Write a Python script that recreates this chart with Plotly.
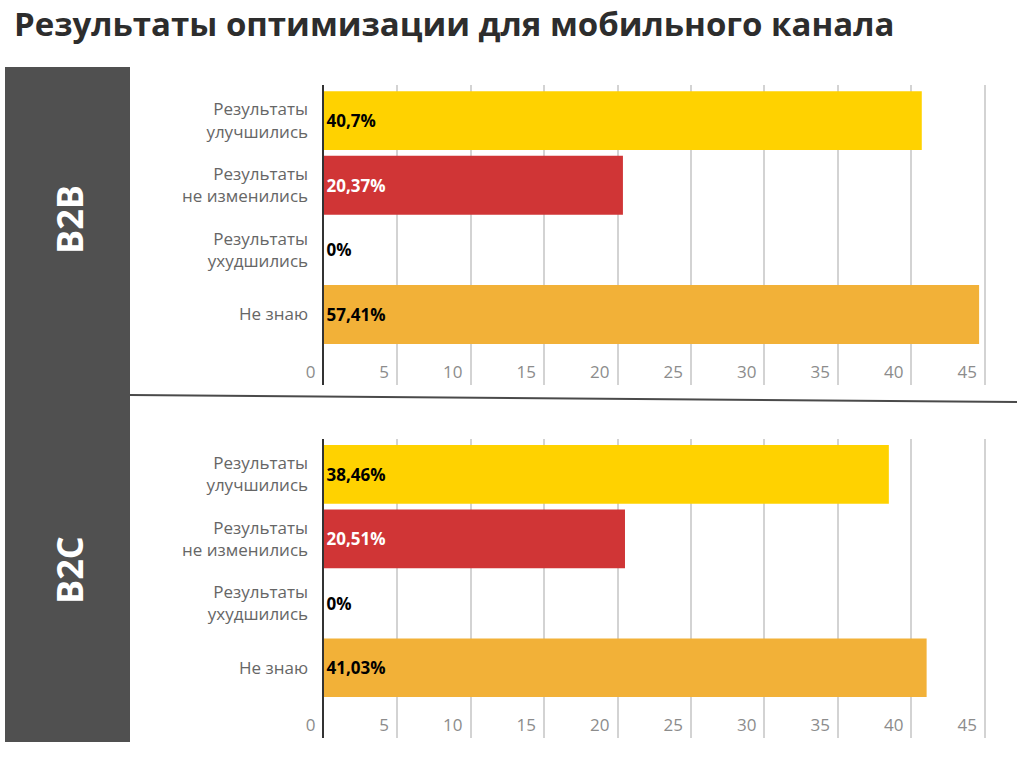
import plotly.graph_objects as go

title_text = "Результаты оптимизации для мобильного канала"
categories = ["Результаты<br>улучшились", "Результаты<br>не изменились",
              "Результаты<br>ухудшились", "Не знаю"]
segments = ["B2B", "B2C"]

# values printed on the bars (percent)
b2b_values = [40.7, 20.37, 0, 57.41]
b2c_values = [38.46, 20.51, 0, 41.03]
# bar lengths as drawn in the picture (the 57,41% bar is drawn truncated at ~44.6)
b2b_drawn = [40.7, 20.37, 0, 44.6]
b2c_drawn = [38.46, 20.51, 0, 41.03]

b2b_labels = ["40,7%", "20,37%", "0%", "57,41%"]
b2c_labels = ["38,46%", "20,51%", "0%", "41,03%"]

x_ticks = [0, 5, 10, 15, 20, 25, 30, 35, 40, 45]

bar_colors = ["#FFD200", "#D03536", "#D03536", "#F2B138"]
text_colors = ["#000000", "#FFFFFF", "#000000", "#000000"]
text_positions = ["inside", "inside", "outside", "inside"]

W, H = 1027, 771
fig = go.Figure()

def px_x(p):
    return p / W

def px_y(p):
    return 1 - p / H

panels = [
    (b2b_drawn, b2b_labels, "x", "y"),
    (b2c_drawn, b2c_labels, "x2", "y2"),
]

for drawn, labels, xa, ya in panels:
    fig.add_trace(go.Bar(
        x=drawn, y=categories, orientation="h",
        xaxis=xa, yaxis=ya,
        marker=dict(color=bar_colors, line=dict(width=0)),
        text=labels, textposition=text_positions,
        insidetextanchor="start",
        textfont=dict(family="Open Sans", size=17, color=text_colors, weight=700),
        outsidetextfont=dict(family="Open Sans", size=17, color="#000000", weight=700),
        constraintext="none", cliponaxis=True,
        showlegend=False, hoverinfo="skip",
    ))

xdom = [px_x(323.5), px_x(989.4)]
axis_common_x = dict(
    range=[0, 45.3], tickvals=x_ticks, ticktext=[str(v) for v in x_ticks],
    showgrid=True, gridcolor="#D3D3D3", gridwidth=1.5, zeroline=False,
    showline=False, ticks="", ticklabelposition="inside left",
    ticklabeloverflow="allow",
    tickfont=dict(family="Open Sans", size=17, color="#8C8C8C"),
    ticklabelstandoff=-2, ticklabelshift=-8, fixedrange=True, automargin=False,
)
axis_common_y = dict(
    type="category", categoryarray=categories,
    range=[3 + 1.09, -0.55], showgrid=False, zeroline=False,
    showline=True, linecolor="#333333", linewidth=2, ticks="",
    ticklabelstandoff=10,
    tickfont=dict(family="Open Sans", size=17, color="#666666"),
    fixedrange=True, automargin=False,
)

fig.update_layout(
    width=W, height=H, margin=dict(l=0, r=0, t=0, b=0, autoexpand=False),
    paper_bgcolor="white", plot_bgcolor="white",
    bargap=0.09,
    title=dict(text=title_text, x=px_x(14), xanchor="left", y=px_y(24), yanchor="middle",
               font=dict(family="Open Sans", size=33, color="#2D2D2D", weight=700)),
    xaxis=dict(domain=xdom, anchor="y", **axis_common_x),
    yaxis=dict(domain=[px_y(385), px_y(85)], anchor="x", **axis_common_y),
    xaxis2=dict(domain=xdom, anchor="y2", **axis_common_x),
    yaxis2=dict(domain=[px_y(738), px_y(439)], anchor="x2", **axis_common_y),
)

# dark side band
fig.add_shape(type="rect", xref="paper", yref="paper",
              x0=px_x(5), x1=px_x(130), y0=px_y(742), y1=px_y(67),
              fillcolor="#505050", line=dict(width=0), layer="below")
# separator line between panels
fig.add_shape(type="line", xref="paper", yref="paper",
              x0=px_x(130), y0=px_y(395), x1=px_x(1017), y1=px_y(402),
              line=dict(color="#4A4A4A", width=2))

for name, yc in zip(segments, [220, 570]):
    fig.add_annotation(text=name, xref="paper", yref="paper",
                       x=px_x(69), y=px_y(yc), textangle=-90, showarrow=False,
                       xanchor="center", yanchor="middle",
                       font=dict(family="Open Sans", size=36, color="white", weight=700))

fig.write_html("out.html")
